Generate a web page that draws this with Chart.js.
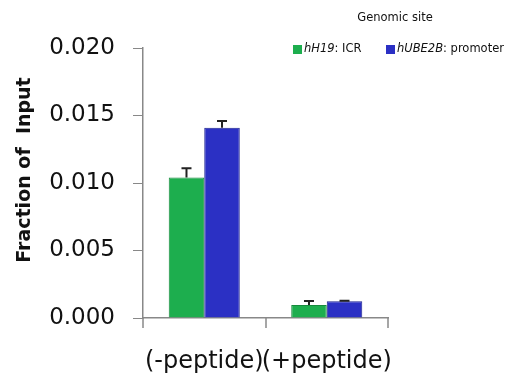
<!DOCTYPE html>
<html>
<head>
<meta charset="utf-8">
<script src="https://cdn.jsdelivr.net/npm/chart.js@4"></script>
<style>
  html, body { margin: 0; padding: 0; background: #fff; }
  #wrap { width: 514px; height: 384px; position: relative; }
</style>
</head>
<body>
<div id="wrap"><canvas id="chipChart" width="514" height="384"></canvas></div>
<script>
// data
const conditions = ['(-peptide)', '(+peptide)'];
const h19Values = [0.0104, 0.00096];
const h19Errors = [0.0007, 0.0003];
const ube2bValues = [0.0141, 0.00125];
const ube2bErrors = [0.0005, 0.00003];
const yTicks = [0, 0.005, 0.01, 0.015, 0.02];

const GREEN = '#1dae4e';
const BLUE = '#2b30c4';

// error bars (upper only)
const errorBarPlugin = {
    id: 'errorBars',
    afterDatasetsDraw(chart) {
        const ctx = chart.ctx;
        const y = chart.scales.y;
        const errs = [h19Errors, ube2bErrors];
        ctx.save();
        ctx.strokeStyle = '#222';
        ctx.lineWidth = 2;
        chart.data.datasets.forEach((ds, di) => {
            chart.getDatasetMeta(di).data.forEach((bar, i) => {
                const top = y.getPixelForValue(ds.data[i] + errs[di][i]);
                ctx.beginPath();
                ctx.moveTo(bar.x, bar.y);
                ctx.lineTo(bar.x, top);
                ctx.moveTo(bar.x - 5, top);
                ctx.lineTo(bar.x + 5, top);
                ctx.stroke();
            });
        });
        ctx.restore();
    }
};

// legend with italic gene names, y title, x axis tick marks at category edges
const legendPlugin = {
    id: 'customLegend',
    afterDraw(chart) {
        const ctx = chart.ctx;
        const area = chart.chartArea;
        ctx.save();
        ctx.strokeStyle = '#888';
        ctx.lineWidth = 1.5;
        const step = (area.right - area.left) / conditions.length;
        for (let i = 0; i <= conditions.length; i++) {
            const px = Math.round(area.left + step * i);
            ctx.beginPath();
            ctx.moveTo(px, area.bottom);
            ctx.lineTo(px, area.bottom + 10);
            ctx.stroke();
        }

        ctx.fillStyle = '#111';
        ctx.save();
        ctx.translate(25, 170);
        ctx.rotate(-Math.PI / 2);
        ctx.textAlign = 'center';
        ctx.textBaseline = 'middle';
        ctx.font = 'bold 19px "DejaVu Sans"';
        ctx.fillText('Fraction of  Input', 0, 0);
        ctx.restore();

        ctx.textBaseline = 'middle';
        ctx.font = '11.5px "DejaVu Sans"';
        ctx.textAlign = 'center';
        ctx.fillText('Genomic site', 395, 18);
        ctx.textAlign = 'left';
        const items = [
            { color: GREEN, x: 293, gene: 'hH19', rest: ': ICR' },
            { color: BLUE, x: 386, gene: 'hUBE2B', rest: ': promoter' }
        ];
        items.forEach(it => {
            ctx.fillStyle = it.color;
            ctx.fillRect(it.x, 45, 9, 9);
            ctx.fillStyle = '#111';
            ctx.font = 'italic 11.5px "DejaVu Sans"';
            ctx.fillText(it.gene, it.x + 11, 49.5);
            const w = ctx.measureText(it.gene).width;
            ctx.font = '11.5px "DejaVu Sans"';
            ctx.fillText(it.rest, it.x + 11 + w, 49.5);
        });
        ctx.restore();
    }
};

new Chart(document.getElementById('chipChart').getContext('2d'), {
    type: 'bar',
    data: {
        labels: conditions,
        datasets: [
            { label: 'hH19: ICR', data: h19Values, backgroundColor: GREEN, borderColor: '#168a3c', borderWidth: 1 },
            { label: 'hUBE2B: promoter', data: ube2bValues, backgroundColor: BLUE, borderColor: '#1d2290', borderWidth: 1 }
        ]
    },
    options: {
        responsive: false,
        animation: false,
        layout: { padding: { top: 48, right: 126, left: 0, bottom: 0 } },
        plugins: {
            legend: { display: false },
            tooltip: { enabled: false }
        },
        datasets: { bar: { categoryPercentage: 0.58, barPercentage: 1.0 } },
        scales: {
            x: {
                grid: { display: false },
                border: { color: '#888', width: 1.5 },
                ticks: {
                    color: '#111',
                    font: { family: 'DejaVu Sans', size: 24 },
                    padding: 21,
                    maxRotation: 0,
                    minRotation: 0,
                    autoSkip: false
                },
                afterFit(scale) { scale.height = 66; }
            },
            y: {
                min: 0,
                max: 0.02,
                afterBuildTicks(scale) { scale.ticks = yTicks.map(v => ({ value: v })); },
                grid: { drawOnChartArea: false, drawTicks: true, tickLength: 10, color: '#888' },
                border: { color: '#888', width: 1.5 },
                ticks: {
                    color: '#111',
                    font: { family: 'DejaVu Sans', size: 23 },
                    padding: 18,
                    callback: v => Number(v).toFixed(3)
                },
                afterFit(scale) { scale.width = 143; }
            }
        }
    },
    plugins: [errorBarPlugin, legendPlugin]
});
</script>
</body>
</html>
